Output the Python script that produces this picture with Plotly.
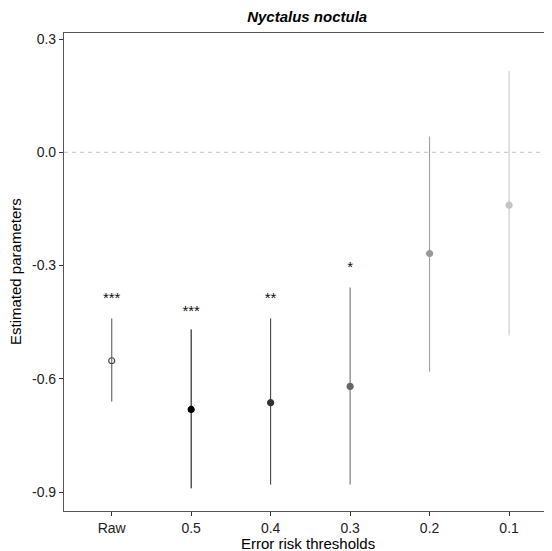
import plotly.graph_objects as go

categories = ["Raw", "0.5", "0.4", "0.3", "0.2", "0.1"]
estimates = [-0.552, -0.681, -0.663, -0.620, -0.268, -0.140]
upper = [-0.440, -0.469, -0.440, -0.358, 0.042, 0.215]
lower = [-0.660, -0.890, -0.880, -0.880, -0.581, -0.485]
stars = ["***", "***", "**", "*", "", ""]
star_y = [-0.390, -0.424, -0.390, -0.308, None, None]
colors = ["#444444", "#000000", "#333333", "#666666", "#999999", "#c4c4c4"]
line_colors = ["#777777", "#000000", "#333333", "#666666", "#999999", "#c4c4c4"]
y_ticks = [0.3, 0.0, -0.3, -0.6, -0.9]

FONT = "Liberation Sans, Arial"

fig = go.Figure()
xpos = list(range(1, len(categories) + 1))
for i, c in enumerate(categories):
    hollow = c == "Raw"
    fig.add_trace(go.Scatter(
        x=[xpos[i]], y=[estimates[i]], mode="markers",
        marker=dict(
            size=6,
            symbol="circle-open" if hollow else "circle",
            color=colors[i],
            line=dict(width=1.2, color=colors[i]),
        ),
        error_y=dict(type="data", symmetric=False,
                     array=[upper[i] - estimates[i]],
                     arrayminus=[estimates[i] - lower[i]],
                     width=0, thickness=1.3 if hollow else 1, color=line_colors[i]),
        showlegend=False,
    ))

fig.add_trace(go.Scatter(
    x=[xpos[i] for i in range(len(stars)) if stars[i]],
    y=[star_y[i] for i in range(len(stars)) if stars[i]],
    text=[s for s in stars if s], mode="text",
    textfont=dict(family=FONT, size=15, color="#111111"),
    showlegend=False,
))

fig.add_shape(type="line", xref="paper", x0=0, x1=1, yref="y", y0=0, y1=0,
              line=dict(color="#cccccc", width=1.2, dash="4px,4px"), layer="below")

fig.add_annotation(text="Estimated parameters", xref="paper", yref="paper",
                   x=0, y=0.5, xshift=-49, textangle=-90, showarrow=False,
                   xanchor="center", yanchor="middle",
                   font=dict(family=FONT, size=15, color="#000000"))
fig.add_annotation(text="Error risk thresholds", xref="paper", yref="paper",
                   x=0.5, y=0, yshift=-32, showarrow=False,
                   xanchor="center", yanchor="middle",
                   font=dict(family=FONT, size=15, color="#000000"))

fig.update_layout(
    width=544, height=543,
    margin=dict(l=56, r=0, t=25, b=40, autoexpand=False),
    paper_bgcolor="white", plot_bgcolor="white",
    font=dict(family=FONT, size=14, color="#333333"),
    title=dict(text="<b><i>Nyctalus noctula</i></b>", x=0.55, xanchor="center",
               y=0.983, yanchor="middle", font=dict(size=15, color="#000000")),
    xaxis=dict(
        range=[0.4, 6.54], tickmode="array", tickvals=xpos, ticktext=categories,
        showline=True, linecolor="#555555", linewidth=1.2, mirror=True,
        ticks="outside", ticklen=4, tickcolor="#333333", showgrid=False, zeroline=False,
        automargin=False,
        tickfont=dict(size=14, color="#222222"),
    ),
    yaxis=dict(
        range=[-0.950, 0.316], tickmode="array", tickvals=y_ticks,
        ticktext=["%.1f" % v for v in y_ticks],
        showline=True, linecolor="#555555", linewidth=1.2,
        ticks="outside", ticklen=4, tickcolor="#333333", showgrid=False, zeroline=False,
        automargin=False,
        tickfont=dict(size=14, color="#222222"),
    ),
)

fig.write_html("out.html")
